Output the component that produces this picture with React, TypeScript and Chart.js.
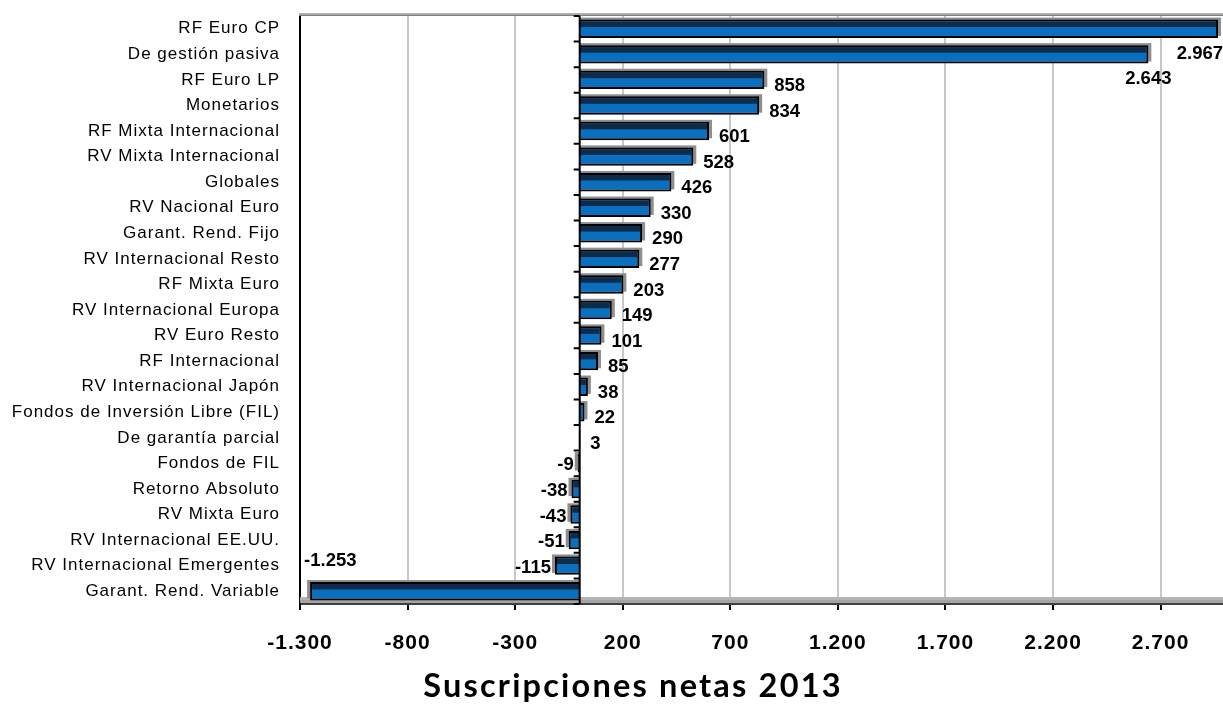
import React, { useEffect, useRef } from 'react';
import { Chart, registerables } from 'chart.js';

Chart.register(...registerables);

const categories = [
  'RF Euro CP',
  'De gestión pasiva',
  'RF Euro LP',
  'Monetarios',
  'RF Mixta Internacional',
  'RV Mixta Internacional',
  'Globales',
  'RV Nacional Euro',
  'Garant. Rend. Fijo',
  'RV Internacional Resto',
  'RF Mixta Euro',
  'RV Internacional Europa',
  'RV Euro Resto',
  'RF Internacional',
  'RV Internacional Japón',
  'Fondos de Inversión Libre (FIL)',
  'De garantía parcial',
  'Fondos de FIL',
  'Retorno Absoluto',
  'RV Mixta Euro',
  'RV Internacional EE.UU.',
  'RV Internacional Emergentes',
  'Garant. Rend. Variable',
];

const values = [
  2967, 2643, 858, 834, 601, 528, 426, 330, 290, 277, 203, 149, 101, 85, 38, 22, 3,
  -9, -38, -43, -51, -115, -1253,
];

const xTicks = [-1300, -800, -300, 200, 700, 1200, 1700, 2200, 2700];
const xMin = -1300;
const xMax = 2990;
const titleText = 'Suscripciones netas 2013';

function fmt(v: number): string {
  const s = Math.abs(Math.round(v))
    .toString()
    .replace(/\B(?=(\d{3})+(?!\d))/g, '.');
  return (v < 0 ? '-' : '') + s;
}

const BAR_BLUE = '#0a6fbe';
const BAR_NAVY = '#0f2b4a';
const SHADOW = '#8e8e8e';

const decorPlugin = {
  id: 'decor',
  beforeDraw(chart: any) {
    chart.ctx.letterSpacing = '1px';
  },
  beforeDatasetsDraw(chart: any) {
    const { ctx, chartArea } = chart;
    ctx.save();
    ctx.letterSpacing = '0px';
    // floor band
    ctx.fillStyle = '#b4b4b4';
    ctx.fillRect(chartArea.left, chartArea.bottom - 7, chartArea.right - chartArea.left, 3);
    ctx.fillStyle = '#a4a4a4';
    ctx.fillRect(chartArea.left, chartArea.bottom - 4, chartArea.right - chartArea.left, 3);
    // top border
    ctx.fillStyle = '#b0b0b0';
    ctx.fillRect(chartArea.left - 1, chartArea.top - 3, chartArea.right - chartArea.left + 1, 1.5);
    ctx.fillStyle = '#808080';
    ctx.fillRect(chartArea.left - 1, chartArea.top - 1.5, chartArea.right - chartArea.left + 1, 1.5);
    // bar shadows
    const meta = chart.getDatasetMeta(0);
    ctx.fillStyle = SHADOW;
    meta.data.forEach((el: any, i: number) => {
      const p = el.getProps(['x', 'y', 'base', 'height'], true);
      const top = p.y - p.height / 2;
      const v = values[i];
      if (Math.abs(p.x - p.base) < 1) return;
      if (v >= 0) {
        ctx.fillRect(p.base, top - 2, p.x - p.base + 3, p.height);
      } else {
        ctx.fillRect(p.x - 3, top - 2, p.base - p.x + 3, p.height);
      }
    });
    ctx.restore();
  },
  afterDatasetsDraw(chart: any) {
    const { ctx, chartArea } = chart;
    const xs = chart.scales.x;
    const ys = chart.scales.y;
    const meta = chart.getDatasetMeta(0);
    ctx.save();
    ctx.letterSpacing = '0px';
    // navy top stripe inside each bar
    ctx.fillStyle = BAR_NAVY;
    meta.data.forEach((el: any) => {
      const p = el.getProps(['x', 'y', 'base', 'height'], true);
      const l = Math.min(p.x, p.base);
      const r = Math.max(p.x, p.base);
      if (r - l < 5) return;
      const top = p.y - p.height / 2;
      ctx.fillRect(l + (p.x < p.base ? 2 : 0), top + 2, r - l - 2, (p.height - 4) * 0.38);
    });
    // zero axis with tick marks
    const x0 = xs.getPixelForValue(0);
    ctx.strokeStyle = '#000';
    ctx.lineWidth = 2;
    ctx.beginPath();
    ctx.moveTo(x0, chartArea.top);
    ctx.lineTo(x0, chartArea.bottom);
    const n = categories.length;
    const step = (chartArea.bottom - chartArea.top) / n;
    for (let i = 0; i <= n; i++) {
      const yy = ys.getPixelForTick(0) - step / 2 + i * step;
      ctx.moveTo(x0 - 6, yy);
      ctx.lineTo(x0, yy);
    }
    ctx.stroke();
    // data labels
    ctx.font = 'bold 18.5px "Liberation Sans", Arial, sans-serif';
    ctx.fillStyle = '#000';
    ctx.textBaseline = 'middle';
    meta.data.forEach((el: any, i: number) => {
      const p = el.getProps(['x', 'y', 'base', 'height'], true);
      const v = values[i];
      const txt = fmt(v);
      const w = ctx.measureText(txt).width;
      if (v >= 0) {
        if (p.x > chartArea.right - 100) {
          ctx.textAlign = 'center';
          const cx = Math.min(p.x, chartArea.right - w / 2);
          ctx.fillText(txt, cx, p.y + 25);
        } else {
          ctx.textAlign = 'left';
          ctx.fillText(txt, p.x + 10, p.y + 6);
        }
      } else {
        if (p.x - w - 6 < chartArea.left) {
          ctx.textAlign = 'left';
          ctx.fillText(txt, p.x - 6, p.y - 30);
        } else {
          ctx.textAlign = 'right';
          ctx.fillText(txt, p.x - 4, p.y + 2);
        }
      }
    });
    ctx.restore();
  },
  afterDraw(chart: any) {
    const { ctx } = chart;
    ctx.save();
    ctx.letterSpacing = '2.2px';
    ctx.font = 'bold 32.5px Lato, "Open Sans", sans-serif';
    ctx.fillStyle = '#000';
    ctx.textAlign = 'center';
    ctx.textBaseline = 'alphabetic';
    ctx.fillText(titleText, 633, 697);
    ctx.restore();
    ctx.letterSpacing = '0px';
  },
};

export default function App() {
  const ref = useRef<HTMLCanvasElement | null>(null);
  useEffect(() => {
    document.body.style.margin = '0';
    const canvas = ref.current!;
    const chart = new Chart(canvas, {
      type: 'bar',
      data: {
        labels: categories,
        datasets: [
          {
            data: values,
            backgroundColor: BAR_BLUE,
            borderColor: '#000000',
            borderWidth: 2,
            borderSkipped: 'start',
            barPercentage: 0.72,
            categoryPercentage: 1,
          },
        ],
      },
      options: {
        indexAxis: 'y',
        responsive: false,
        animation: false,
        devicePixelRatio: 1,
        layout: { padding: { top: 16, right: 0, bottom: 53, left: 0 } },
        plugins: {
          legend: { display: false },
          tooltip: { enabled: false },
          title: { display: false },
        },
        scales: {
          x: {
            type: 'linear',
            position: 'bottom',
            min: xMin,
            max: xMax,
            afterBuildTicks: (s: any) => {
              s.ticks = xTicks.map((v) => ({ value: v }));
            },
            afterFit: (s: any) => {
              s.height = 50;
              s.paddingLeft = 0;
              s.paddingRight = 0;
            },
            grid: {
              color: '#c8c8c8',
              lineWidth: 2,
              tickColor: '#000',
              tickWidth: 2,
              tickLength: 6,
              drawTicks: true,
            },
            border: { color: '#404040', width: 2 },
            ticks: {
              autoSkip: false,
              maxRotation: 0,
              padding: 21,
              color: '#000',
              font: { family: '"Liberation Sans", Arial, sans-serif', size: 21, weight: 'bold' },
              callback: (v: any) => fmt(Number(v)),
            },
          },
          y: {
            type: 'category',
            position: 'left',
            afterFit: (s: any) => {
              s.width = 300;
              s.paddingTop = 0;
              s.paddingBottom = 0;
            },
            grid: { display: false, drawTicks: false },
            border: { display: true, color: '#000', width: 2 },
            ticks: {
              padding: 20,
              color: '#000',
              autoSkip: false,
              font: { family: '"Liberation Sans", Arial, sans-serif', size: 17 },
            },
          },
        },
      },
      plugins: [decorPlugin],
    } as any);
    return () => chart.destroy();
  }, []);
  return (
    <div style={{ width: 1223, height: 707 }}>
      <canvas ref={ref} width={1223} height={707} />
    </div>
  );
}
